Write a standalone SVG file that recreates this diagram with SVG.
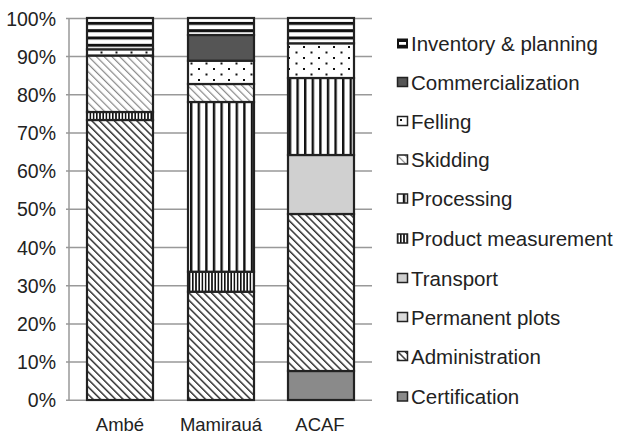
<svg xmlns="http://www.w3.org/2000/svg" width="627" height="437" viewBox="0 0 627 437">
<style>
text{font-family:"Liberation Sans",Arial,sans-serif;font-size:19.5px;fill:#222}
.tick{text-anchor:end}
.cat{text-anchor:middle;font-size:18.5px}
.lt{font-size:20.5px}
.grid{stroke:#999;stroke-width:1.5;fill:none}
.seg{stroke:#222;stroke-width:2.2}
.leg{stroke:#222;stroke-width:1.5}
</style>
<defs>
<pattern id="pInv" patternUnits="userSpaceOnUse" width="10" height="7.3"><rect width="10" height="7.3" fill="#fff"/><rect y="0" width="10" height="3" fill="#111"/></pattern>
<pattern id="pFel" patternUnits="userSpaceOnUse" width="15" height="11"><rect width="15" height="11" fill="#fff"/><rect x="3" y="2" width="2" height="2" fill="#111"/><rect x="10.5" y="7.5" width="2" height="2" fill="#111"/></pattern>
<pattern id="pSki" patternUnits="userSpaceOnUse" width="5.5" height="5.5" patternTransform="rotate(-45)"><rect width="5.5" height="5.5" fill="#fff"/><rect x="0" width="1.2" height="5.5" fill="#888"/></pattern>
<pattern id="pPro" patternUnits="userSpaceOnUse" width="7.6" height="10"><rect width="7.6" height="10" fill="#fff"/><rect x="0" width="2.4" height="10" fill="#111"/></pattern>
<pattern id="pMea" patternUnits="userSpaceOnUse" width="3.2" height="10"><rect width="3.2" height="10" fill="#fff"/><rect x="0" width="1.6" height="10" fill="#111"/></pattern>
<pattern id="pAdm" patternUnits="userSpaceOnUse" width="5.3" height="5.3" patternTransform="rotate(-45)"><rect width="5.3" height="5.3" fill="#fff"/><rect x="0" width="1.45" height="5.3" fill="#2a2a2a"/></pattern>
</defs>

<g id="axes">
<path class="grid" d="M66 18.5H372M66 56.5H372M66 94.7H372M66 132.9H372M66 171.1H372M66 209.3H372M66 247.5H372M66 285.7H372M66 323.9H372M66 362.1H372M66 400.3H372M69 18V401"/>
<text class="tick" x="56" y="25.5">100%</text>
<text class="tick" x="56" y="63.5">90%</text>
<text class="tick" x="56" y="101.7">80%</text>
<text class="tick" x="56" y="139.9">70%</text>
<text class="tick" x="56" y="178.1">60%</text>
<text class="tick" x="56" y="216.3">50%</text>
<text class="tick" x="56" y="254.5">40%</text>
<text class="tick" x="56" y="292.7">30%</text>
<text class="tick" x="56" y="330.9">20%</text>
<text class="tick" x="56" y="369.1">10%</text>
<text class="tick" x="56" y="407.3">0%</text>
<text class="cat" x="120" y="430.5">Ambé</text>
<text class="cat" x="221" y="430.5">Mamirauá</text>
<text class="cat" x="320" y="430.5">ACAF</text>
</g>

<g id="bar-ambe">
<rect class="seg" x="87" y="120" width="66" height="280" fill="url(#pAdm)"/>
<rect class="seg" x="87" y="112" width="66" height="8" fill="url(#pMea)"/>
<rect class="seg" x="87" y="55.5" width="66" height="56.5" fill="url(#pSki)"/>
<rect class="seg" x="87" y="49.3" width="66" height="6.2" fill="url(#pFel)"/>
<rect class="seg" x="87" y="18" width="66" height="31.3" fill="url(#pInv)"/>
</g>

<g id="bar-mamiraua">
<rect class="seg" x="188" y="291.7" width="66" height="108.3" fill="url(#pAdm)"/>
<rect class="seg" x="188" y="271.7" width="66" height="20" fill="url(#pMea)"/>
<rect class="seg" x="188" y="102" width="66" height="169.7" fill="url(#pPro)"/>
<rect class="seg" x="188" y="84" width="66" height="18" fill="url(#pSki)"/>
<rect class="seg" x="188" y="60.7" width="66" height="23.3" fill="url(#pFel)"/>
<rect class="seg" x="188" y="35" width="66" height="25.7" fill="#555"/>
<rect class="seg" x="188" y="18" width="66" height="17" fill="url(#pInv)"/>
</g>

<g id="bar-acaf">
<rect class="seg" x="288" y="371" width="66" height="29" fill="#8a8a8a"/>
<rect class="seg" x="288" y="214" width="66" height="157" fill="url(#pAdm)"/>
<rect class="seg" x="288" y="155" width="66" height="59" fill="#d0d0d0"/>
<rect class="seg" x="288" y="78" width="66" height="77" fill="url(#pPro)"/>
<rect class="seg" x="288" y="43.3" width="66" height="34.7" fill="url(#pFel)"/>
<rect class="seg" x="288" y="18" width="66" height="25.3" fill="url(#pInv)"/>
</g>

<g id="legend-inventory"><rect x="397" y="38.5" width="11" height="10" fill="#111"/><rect x="399" y="42" width="7" height="2.8" fill="#fff"/><text class="lt" x="411" y="51">Inventory &amp; planning</text></g>
<g id="legend-commercialization"><rect class="leg" x="397.5" y="77.5" width="10" height="9" fill="#555"/><text class="lt" x="411" y="89.5">Commercialization</text></g>
<g id="legend-felling"><rect class="leg" x="397.5" y="116.5" width="10" height="9" fill="#fff"/><rect x="400" y="119" width="2" height="2" fill="#111"/><text class="lt" x="411" y="128.5">Felling</text></g>
<g id="legend-skidding"><rect class="leg" x="397.5" y="155" width="10" height="9" fill="url(#pSki)"/><text class="lt" x="411" y="167">Skidding</text></g>
<g id="legend-processing"><rect class="leg" x="397.5" y="194" width="10" height="9" fill="url(#pPro)"/><text class="lt" x="411" y="206">Processing</text></g>
<g id="legend-measurement"><rect class="leg" x="397.5" y="234" width="10" height="9" fill="url(#pMea)"/><text class="lt" x="411" y="246">Product measurement</text></g>
<g id="legend-transport"><rect class="leg" x="397.5" y="273.5" width="10" height="9" fill="#cfcfcf"/><text class="lt" x="411" y="285.5">Transport</text></g>
<g id="legend-plots"><rect class="leg" x="397.5" y="312.5" width="10" height="9" fill="#dadada"/><text class="lt" x="411" y="324.5">Permanent plots</text></g>
<g id="legend-administration"><rect class="leg" x="397.5" y="351.5" width="10" height="9" fill="url(#pAdm)"/><text class="lt" x="411" y="363.5">Administration</text></g>
<g id="legend-certification"><rect class="leg" x="397.5" y="392" width="10" height="9" fill="#8a8a8a"/><text class="lt" x="411" y="404">Certification</text></g>
</svg>
